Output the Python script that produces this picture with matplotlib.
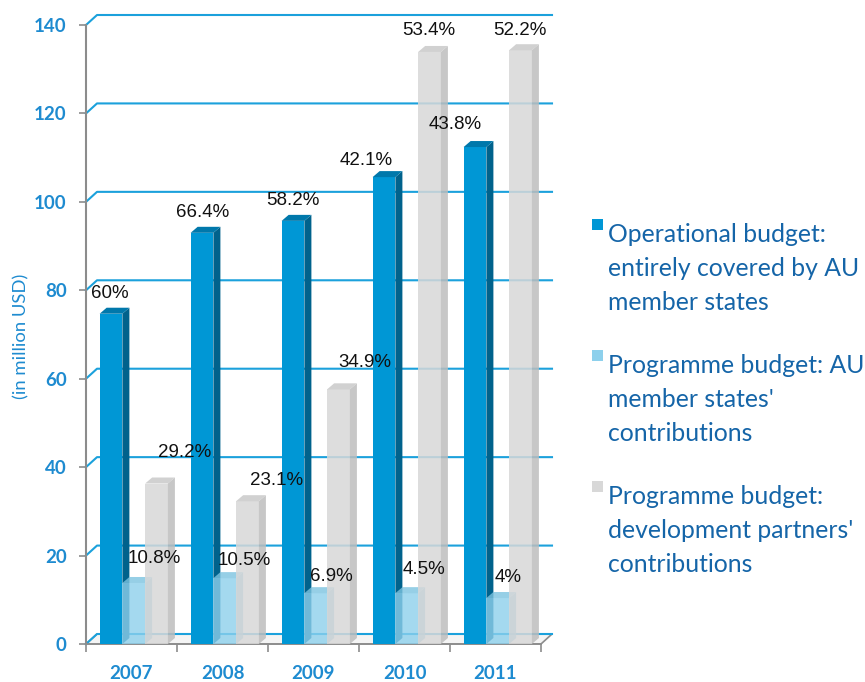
import matplotlib.pyplot as plt
from matplotlib.patches import Polygon, Rectangle

years = ["2007", "2008", "2009", "2010", "2011"]
operational = [74.7, 93.0, 95.7, 105.6, 112.4]
prog_au = [13.8, 14.9, 11.5, 11.5, 10.4]
prog_partners = [36.3, 32.3, 57.6, 133.9, 134.3]
op_labels = ["60%", "66.4%", "58.2%", "42.1%", "43.8%"]
au_labels = ["10.8%", "10.5%", "6.9%", "4.5%", "4%"]
partner_labels = ["29.2%", "23.1%", "34.9%", "53.4%", "52.2%"]
legend_labels = [
    ["Operational budget:", "entirely covered by AU", "member states"],
    ["Programme budget: AU", "member states'", "contributions"],
    ["Programme budget:", "development partners'", "contributions"],
]

# label nudges in pixels (label centre relative to bar top centre)
op_nudge = [(-1, 20), (1, 20), (0, 20), (-18, 17), (-20, 23)]
au_nudge = [(20, 24), (19, 18), (16, 17), (17, 24), (10, 21)]
partner_nudge = [(28, 31), (29, 21), (26, 27), (-1, 21), (-1, 20)]

W, H = 865, 682
fig = plt.figure(figsize=(W / 100, H / 100), dpi=100)
# front plane: x 86..541 px, y 644..25 px
ax = fig.add_axes([86 / W, 1 - 644 / H, 455 / W, 619 / H])
ax.set_xlim(0, 5)
ax.set_ylim(0, 140)

px_x = 5 / 455
px_y = 140 / 619
bdx, bdy = 7 * px_x, 6 * px_y     # bar depth
wdx, wdy = 11 * px_x, 10 * px_y   # wall depth

tick_blue = "#1E8BD0"
grid_blue = "#1BA1DC"
axis_gray = "#8C8C8C"

# floor
ax.add_patch(Polygon([(0, 0), (5, 0), (5 + wdx, wdy), (wdx, wdy)],
                     closed=True, facecolor="#F4F4F4", edgecolor=axis_gray,
                     lw=1.2, zorder=1, clip_on=False))

# back wall gridlines
for v in range(0, 141, 20):
    ax.plot([0, wdx, 5 + wdx], [v, v + wdy, v + wdy], color=grid_blue,
            lw=1.5, zorder=2, clip_on=False)


def bar3d(x0, width, v, front, side, top, alpha, z):
    x1 = x0 + width
    ax.bar(x0, v, width=width, align="edge", color=front, alpha=alpha,
           zorder=z, linewidth=0)
    ax.add_patch(Polygon([(x1, 0), (x1 + bdx, bdy), (x1 + bdx, v + bdy), (x1, v)],
                         closed=True, facecolor=side, alpha=alpha, lw=0,
                         zorder=z, clip_on=False))
    ax.add_patch(Polygon([(x0, v), (x0 + bdx, v + bdy), (x1 + bdx, v + bdy), (x1, v)],
                         closed=True, facecolor=top, alpha=alpha, lw=0,
                         zorder=z, clip_on=False))


bw = 0.25
start = 0.15
series = [
    (operational, op_labels, op_nudge, ("#0097D5", "#00628C", "#0078AB"), 1.0, 3),
    (prog_au, au_labels, au_nudge, ("#8DD0EC", "#6AB3D2", "#7CC3E0"), 0.8, 4),
    (prog_partners, partner_labels, partner_nudge, ("#D8D8D8", "#BDBDBD", "#C9C9C9"), 0.85, 5),
]
for k, (vals, labs, nudge, cols, alpha, z) in enumerate(series):
    for i, v in enumerate(vals):
        x0 = i + start + k * bw
        bar3d(x0, bw, v, cols[0], cols[1], cols[2], alpha, z)
        ax.annotate(labs[i], xy=(x0 + bw / 2, v), xytext=nudge[i],
                    textcoords="offset pixels", ha="center", va="center",
                    fontsize=13.5, family="Liberation Sans", color="#111111",
                    zorder=10, annotation_clip=False)

# axes styling
for s in ["top", "right"]:
    ax.spines[s].set_visible(False)
ax.spines["left"].set_color(axis_gray)
ax.spines["bottom"].set_color(axis_gray)
ax.spines["left"].set_linewidth(1.5)
ax.spines["bottom"].set_linewidth(1.2)
ax.patch.set_visible(False)

ax.set_yticks(range(0, 141, 20))
ax.tick_params(axis="y", direction="out", length=5, color=axis_gray, width=1.2,
               pad=9, labelcolor=tick_blue, labelsize=13.5)
for t in ax.get_yticklabels():
    t.set_fontfamily("Lato")
    t.set_fontweight("bold")

ax.set_xticks(range(0, 6))
ax.set_xticklabels([""] * 6)
ax.tick_params(axis="x", which="major", direction="out", length=6,
               color=axis_gray, width=1.2)
ax.set_xticks([i + 0.5 for i in range(5)], minor=True)
ax.set_xticklabels(years, minor=True)
ax.tick_params(axis="x", which="minor", length=0, pad=15,
               labelcolor=tick_blue, labelsize=13.5)
for t in ax.get_xticklabels(minor=True):
    t.set_fontfamily("Lato")
    t.set_fontweight("bold")

fig.text(21 / W, 1 - 336 / H, "(in million USD)", rotation=90, ha="center",
         va="center", color=tick_blue, fontsize=13.3, family="Lato")

# legend
legend_colors = ["#0097D5", "#8DD0EC", "#D8D8D8"]
entry_base = [242, 373, 504]
for e, lines in enumerate(legend_labels):
    sq_top = entry_base[e] - 23
    fig.patches.append(Rectangle((592 / W, 1 - (sq_top + 11) / H), 11 / W, 11 / H,
                                 transform=fig.transFigure, facecolor=legend_colors[e],
                                 edgecolor="none"))
    for j, line in enumerate(lines):
        fig.text(608 / W, 1 - (entry_base[e] + 34 * j) / H, line, ha="left",
                 va="baseline", color="#1565A8", fontsize=17.8, family="Lato")

fig.savefig("out.png", dpi=100)
